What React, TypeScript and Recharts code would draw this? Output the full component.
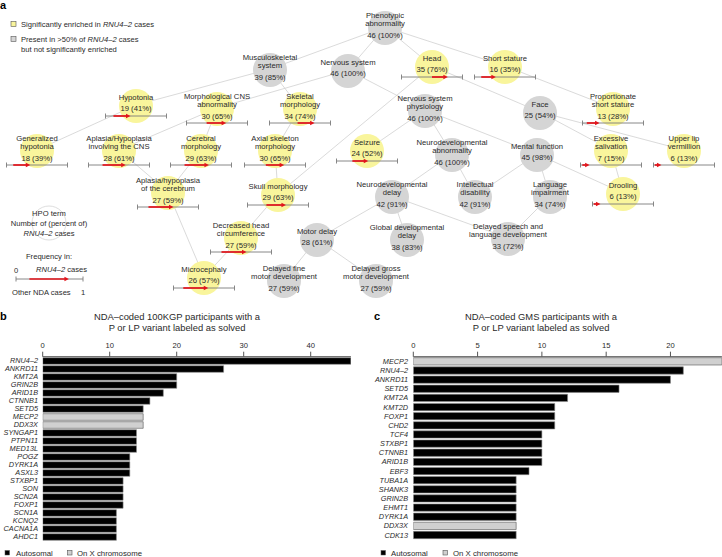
import React from 'react';
import { ScatterChart, Scatter, XAxis, YAxis, BarChart, Bar, Cell } from 'recharts';

const FONT = "'Liberation Sans', Arial, sans-serif";
const YELLOW = '#f9f59c';
const GREY = '#d5d5d5';
const EDGE = '#d0d0d0';
const RED = '#e3141b';
const TXT = '#2a2a2a';

// ---------- Panel a: HPO term graph ----------
const hpoLabels = [
  'Phenotypic\nabnormality', 'Musculoskeletal\nsystem', 'Nervous system', 'Head', 'Short stature',
  'Hypotonia', 'Morphological CNS\nabnormality', 'Skeletal\nmorphology', 'Nervous system\nphysiology', 'Face',
  'Proportionate\nshort stature', 'Generalized\nhypotonia', 'Aplasia/Hypoplasia\ninvolving the CNS', 'Cerebral\nmorphology',
  'Axial skeleton\nmorphology', 'Seizure', 'Neurodevelopmental\nabnormality', 'Mental function', 'Excessive\nsalivation',
  'Upper lip\nvermillion', 'Aplasia/hypoplasia\nof the cerebrum', 'Skull morphology', 'Neurodevelopmental\ndelay',
  'Intellectual\ndisability', 'Language\nimpairment', 'Drooling', 'Decreased head\ncircumference', 'Motor delay',
  'Global developmental\ndelay', 'Delayed speech and\nlanguage development', 'Microcephaly', 'Delayed fine\nmotor development',
  'Delayed gross\nmotor development',
];
const hpoCounts = [46, 39, 46, 35, 16, 19, 30, 34, 46, 25, 13, 18, 28, 29, 30, 24, 46, 45, 7, 6, 27, 29, 42, 42, 34, 6, 27, 28, 38, 33, 26, 27, 27];
const hpoPercents = [100, 85, 100, 76, 35, 41, 65, 74, 100, 54, 28, 39, 61, 63, 65, 52, 100, 98, 15, 13, 59, 63, 91, 91, 74, 13, 59, 61, 83, 72, 57, 59, 59];
const hpoEnriched = [false, false, false, true, true, true, true, true, false, false, true, true, true, true, true, true, false, false, true, true, true, true, false, false, false, true, true, false, false, false, true, false, false];
// frequency among other NDA cases (0..1), for enriched terms
const hpoOtherFreq = [0, 0, 0, 0.5, 0.11, 0.13, 0.33, 0.46, 0, 0, 0.07, 0.11, 0.23, 0.23, 0.35, 0.26, 0, 0, 0.03, 0.02, 0.18, 0.31, 0, 0, 0, 0.02, 0.18, 0, 0, 0, 0.16, 0, 0];
// graph layout coordinates
const hpoLayoutX = [385, 270, 348, 432, 505, 136, 217, 300, 425, 540, 613, 37, 119, 201, 275, 367, 452, 537, 611, 684, 168, 278, 392, 475, 550, 623, 241, 317, 407, 508, 204, 284, 376];
const hpoLayoutY = [27, 69, 70, 66, 66, 105, 108, 108, 110, 112, 108, 150, 150, 150, 150, 150, 154, 154, 150, 150, 192, 194, 196, 196, 196, 193, 237, 239, 239, 238, 277, 280, 280];
const hpoEdges: [number, number][] = [
  [0, 1], [0, 2], [0, 3], [0, 4], [1, 5], [1, 7], [2, 6], [2, 8], [3, 9], [3, 21], [4, 10], [5, 11],
  [6, 12], [6, 13], [7, 14], [8, 15], [8, 16], [8, 17], [9, 18], [9, 19], [12, 20], [13, 20], [14, 21],
  [16, 22], [16, 23], [17, 23], [17, 24], [17, 25], [18, 25], [20, 30], [21, 26], [26, 30], [22, 27],
  [22, 28], [22, 29], [24, 29], [27, 31], [27, 32],
];

// ---------- Panel b ----------
const genesB = ['RNU4–2', 'ANKRD11', 'KMT2A', 'GRIN2B', 'ARID1B', 'CTNNB1', 'SETD5', 'MECP2', 'DDX3X', 'SYNGAP1', 'PTPN11', 'MED13L', 'POGZ', 'DYRK1A', 'ASXL3', 'STXBP1', 'SON', 'SCN2A', 'FOXP1', 'SCN1A', 'KCNQ2', 'CACNA1A', 'AHDC1'];
const countsB = [46, 27, 20, 20, 18, 16, 15, 15, 15, 14, 14, 14, 13, 13, 13, 12, 12, 12, 12, 11, 11, 11, 11];
const ticksB = [0, 10, 20, 30, 40];

// ---------- Panel c ----------
const genesC = ['MECP2', 'RNU4–2', 'ANKRD11', 'SETD5', 'KMT2A', 'KMT2D', 'FOXP1', 'CHD2', 'TCF4', 'STXBP1', 'CTNNB1', 'ARID1B', 'EBF3', 'TUBA1A', 'SHANK3', 'GRIN2B', 'EHMT1', 'DYRK1A', 'DDX3X', 'CDK13'];
const countsC = [24, 21, 20, 16, 12, 11, 11, 11, 10, 10, 10, 10, 9, 8, 8, 8, 8, 8, 8, 8];
const ticksC = [0, 5, 10, 15, 20];

const xLinkedGenes = ['MECP2', 'DDX3X'];

const nodes = hpoLabels.map((label, i) => ({
  x: hpoLayoutX[i],
  y: hpoLayoutY[i],
  label,
  count: hpoCounts[i],
  pct: hpoPercents[i],
  enriched: hpoEnriched[i],
  other: hpoOtherFreq[i],
}));

const dataB = genesB.map((g, i) => ({ gene: g, value: countsB[i], x: xLinkedGenes.includes(g) }));
const dataC = genesC.map((g, i) => ({ gene: g, value: countsC[i], x: xLinkedGenes.includes(g) }));

function FreqBar({ x0, w, y, fo, fr }: { x0: number; w: number; y: number; fo: number; fr: number }) {
  const xs = x0 + w * fo;
  const xe = x0 + w * fr;
  const head = 4.5;
  return (
    <g>
      <line x1={x0} x2={x0 + w} y1={y} y2={y} stroke="#7a7a7a" strokeWidth={0.9} />
      <line x1={x0} x2={x0} y1={y - 2.5} y2={y + 2.5} stroke="#7a7a7a" strokeWidth={0.9} />
      <line x1={x0 + w} x2={x0 + w} y1={y - 2.5} y2={y + 2.5} stroke="#7a7a7a" strokeWidth={0.9} />
      <line x1={xs} x2={Math.max(xs, xe - head + 0.5)} y1={y} y2={y} stroke={RED} strokeWidth={1.7} />
      <polygon points={`${xe},${y} ${xe - head},${y - 2.3} ${xe - head},${y + 2.3}`} fill={RED} />
    </g>
  );
}

function CircleShape(props: any) {
  const { cx, cy, payload } = props;
  return <circle cx={cx} cy={cy + 1} r={17} fill={payload.enriched ? YELLOW : GREY} />;
}

function LabelShape(props: any) {
  const { cx, cy, payload } = props;
  const lines: string[] = payload.label.split('\n');
  const one = lines.length === 1;
  const labelYs = one ? [cy - 8] : [cy - 12, cy - 4];
  const countY = one ? cy + 3 : cy + 8;
  const by = one ? cy + 11 : cy + 15;
  const w = 61;
  return (
    <g fontFamily={FONT} fontSize={7.7} fill={TXT}>
      {lines.map((l, i) => (
        <text key={i} x={cx} y={labelYs[i]} textAnchor="middle" dominantBaseline="central">{l}</text>
      ))}
      <text x={cx} y={countY} textAnchor="middle" dominantBaseline="central">{`${payload.count} (${payload.pct}%)`}</text>
      {payload.enriched && <FreqBar x0={cx - w / 2} w={w} y={by} fo={payload.other} fr={payload.pct / 100} />}
    </g>
  );
}

const Empty = () => <g />;

function Overlay() {
  const t = { fontFamily: FONT, fill: TXT } as any;
  return (
    <svg width={722} height={557} style={{ position: 'absolute', left: 0, top: 0, pointerEvents: 'none' }}>
      <text x={0} y={9} fontFamily={FONT} fontWeight="bold" fontSize={11} fill="#000">a</text>
      <rect x={11} y={21.5} width={5} height={5} fill={YELLOW} stroke="#555" strokeWidth={0.6} />
      <text x={21} y={24} {...t} fontSize={7.6} dominantBaseline="central">
        Significantly enriched in <tspan fontStyle="italic">RNU4–2</tspan> cases
      </text>
      <rect x={11} y={36.5} width={5} height={5} fill={GREY} stroke="#555" strokeWidth={0.6} />
      <text x={21} y={39} {...t} fontSize={7.6} dominantBaseline="central">
        Present in &gt;50% of <tspan fontStyle="italic">RNU4–2</tspan> cases
      </text>
      <text x={21} y={49} {...t} fontSize={7.6} dominantBaseline="central">but not significantly enriched</text>

      <circle cx={49} cy={223} r={17} fill="none" stroke="#cfcfcf" strokeWidth={0.7} />
      <text x={49} y={213} {...t} fontSize={7.6} textAnchor="middle" dominantBaseline="central">HPO term</text>
      <text x={49} y={223} {...t} fontSize={7.6} textAnchor="middle" dominantBaseline="central">Number of (percent of)</text>
      <text x={49} y={233} {...t} fontSize={7.6} textAnchor="middle" dominantBaseline="central">
        <tspan fontStyle="italic">RNU4–2</tspan> cases
      </text>

      <text x={49} y={256} {...t} fontSize={7.6} textAnchor="middle" dominantBaseline="central">Frequency in:</text>
      <text x={16} y={270} {...t} fontSize={7.6} textAnchor="middle" dominantBaseline="central">0</text>
      <text x={36} y={269} {...t} fontSize={7.6} dominantBaseline="central">
        <tspan fontStyle="italic">RNU4–2</tspan>  cases
      </text>
      <FreqBar x0={16} w={67} y={279} fo={0.2} fr={0.79} />
      <text x={12} y={292} {...t} fontSize={7.6} dominantBaseline="central">Other NDA cases</text>
      <text x={83} y={292} {...t} fontSize={7.6} textAnchor="middle" dominantBaseline="central">1</text>

      <text x={0} y={320} fontFamily={FONT} fontWeight="bold" fontSize={11} fill="#000">b</text>
      <text x={177} y={316} {...t} fontSize={9.4} textAnchor="middle" dominantBaseline="central">NDA–coded 100KGP participants with a</text>
      <text x={177} y={327} {...t} fontSize={9.4} textAnchor="middle" dominantBaseline="central">P or LP variant labeled as solved</text>

      <text x={374} y={320} fontFamily={FONT} fontWeight="bold" fontSize={11} fill="#000">c</text>
      <text x={541} y={316} {...t} fontSize={9.4} textAnchor="middle" dominantBaseline="central">NDA–coded GMS participants with a</text>
      <text x={541} y={327} {...t} fontSize={9.4} textAnchor="middle" dominantBaseline="central">P or LP variant labeled as solved</text>

      <rect x={5} y={550.5} width={4.5} height={4.5} fill="#000" stroke="#555" strokeWidth={0.5} />
      <text x={16} y={553} {...t} fontSize={7.8} dominantBaseline="central">Autosomal</text>
      <rect x={67.5} y={550.5} width={4.5} height={4.5} fill="#d0d0d0" stroke="#555" strokeWidth={0.6} />
      <text x={77} y={553} {...t} fontSize={7.8} dominantBaseline="central">On X chromosome</text>

      <rect x={381} y={550.5} width={4.5} height={4.5} fill="#000" stroke="#555" strokeWidth={0.5} />
      <text x={391} y={553} {...t} fontSize={7.8} dominantBaseline="central">Autosomal</text>
      <rect x={443} y={550.5} width={4.5} height={4.5} fill="#d0d0d0" stroke="#555" strokeWidth={0.6} />
      <text x={453} y={553} {...t} fontSize={7.8} dominantBaseline="central">On X chromosome</text>
    </svg>
  );
}

const axisTick = { fontSize: 7.6, fill: TXT, fontFamily: FONT };
const geneTick = { fontSize: 7.3, fill: TXT, fontFamily: FONT, fontStyle: 'italic' };

export default function App() {
  return (
    <div style={{ position: 'absolute', left: 0, top: 0, width: 722, height: 557, background: '#fff', overflow: 'hidden' }}>
      <div style={{ position: 'absolute', left: 0, top: 0 }}>
        <ScatterChart width={722} height={300} margin={{ top: 0, right: 0, bottom: 0, left: 0 }}>
          <XAxis type="number" dataKey="x" domain={[0, 722]} hide />
          <YAxis type="number" dataKey="y" domain={[0, 300]} reversed hide />
          {hpoEdges.map(([a, b], i) => (
            <Scatter
              key={'e' + i}
              data={[{ x: hpoLayoutX[a], y: hpoLayoutY[a] }, { x: hpoLayoutX[b], y: hpoLayoutY[b] }]}
              line={{ stroke: EDGE, strokeWidth: 0.8 }}
              shape={Empty}
              isAnimationActive={false}
              legendType="none"
            />
          ))}
          <Scatter data={nodes} shape={CircleShape} isAnimationActive={false} legendType="none" />
          <Scatter data={nodes} shape={LabelShape} isAnimationActive={false} legendType="none" />
        </ScatterChart>
      </div>

      <div style={{ position: 'absolute', left: 0, top: 330 }}>
        <BarChart width={360} height={220} layout="vertical" data={dataB}
          margin={{ top: 6.7, right: 9.1, bottom: 9.3, left: 2.7 }} barCategoryGap={1}>
          <XAxis type="number" orientation="top" domain={[0, 46]} ticks={ticksB} height={20}
            tick={axisTick} tickSize={5} tickMargin={4} stroke="#555" allowDataOverflow />
          <YAxis type="category" dataKey="gene" width={40} tickLine={false} axisLine={false}
            tickSize={0} tickMargin={4.7} tick={geneTick} interval={0} />
          <Bar dataKey="value" isAnimationActive={false} barSize={6.6} strokeWidth={0.6}>
            {dataB.map((d, i) => (
              <Cell key={i} fill={d.x ? '#d0d0d0' : '#000'} stroke={d.x ? '#555' : '#8a8a8a'} />
            ))}
          </Bar>
        </BarChart>
      </div>

      <div style={{ position: 'absolute', left: 360, top: 330 }}>
        <BarChart width={362} height={220} layout="vertical" data={dataC}
          margin={{ top: 6.7, right: 0.1, bottom: 10.5, left: 5.3 }} barCategoryGap={1}>
          <XAxis type="number" orientation="top" domain={[0, 24]} ticks={ticksC} height={20}
            tick={axisTick} tickSize={5} tickMargin={4} stroke="#555" allowDataOverflow />
          <YAxis type="category" dataKey="gene" width={48} tickLine={false} axisLine={false}
            tickSize={0} tickMargin={5.3} tick={geneTick} interval={0} />
          <Bar dataKey="value" isAnimationActive={false} barSize={7.3} strokeWidth={0.6}>
            {dataC.map((d, i) => (
              <Cell key={i} fill={d.x ? '#d0d0d0' : '#000'} stroke={d.x ? '#555' : '#8a8a8a'} />
            ))}
          </Bar>
        </BarChart>
      </div>

      <Overlay />
    </div>
  );
}
